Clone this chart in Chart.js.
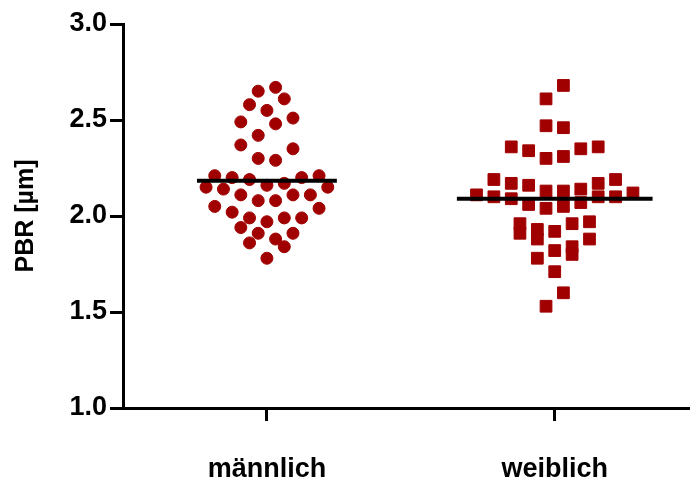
<!DOCTYPE html>
<html lang="de">
<head>
    <meta charset="UTF-8">
    <title>PBR</title>
    <script src="https://cdn.jsdelivr.net/npm/chart.js@4.4.0/dist/chart.umd.min.js"></script>
    <style>
        html, body { margin: 0; padding: 0; overflow: hidden; background: #fff; }
        .wrap { position: relative; width: 690px; height: 480px; }
    </style>
</head>
<body>
    <div class="wrap"><canvas id="chart"></canvas></div>
    <script>
        // categories and values
        const groups = ['männlich', 'weiblich'];

        const maleValues = [
            2.65, 2.67, 2.61, 2.58, 2.55, 2.49, 2.48, 2.51, 2.42, 2.37,
            2.35, 2.30, 2.29, 2.21, 2.20, 2.19, 2.20, 2.21, 2.15, 2.14,
            2.16, 2.17, 2.15, 2.11, 2.11, 2.11, 2.08, 2.08, 2.05, 2.02,
            2.04, 1.99, 1.97, 1.99, 1.99, 1.94, 1.91, 1.91, 1.86, 1.88,
            1.84, 1.78
        ];
        // horizontal scatter column of each point (as in the dot plot)
        const maleJitter = [
            -1, 1, 2, -2, 0, -3, 1, 3, -1, -3,
            3, -1, 1, -6, -4, -2, 4, 6, -7, -5,
            0, 2, 7, -3, 3, 5, -1, 1, -6, -4,
            6, -2, 0, 2, 4, -3, -1, 3, -2, 1,
            2, 0
        ];

        const femaleValues = [
            2.68, 2.61, 2.47, 2.46, 2.36, 2.34, 2.30, 2.31, 2.35, 2.36,
            2.19, 2.17, 2.16, 2.13, 2.13, 2.14, 2.17, 2.19, 2.11, 2.10,
            2.09, 2.10, 2.10, 2.12, 2.06, 2.04, 2.05, 2.07, 1.96, 1.91,
            1.93, 1.88, 1.92, 1.96, 1.97, 1.88, 1.82, 1.84, 1.80, 1.78,
            1.71, 1.60, 1.53
        ];
        const femaleJitter = [
            1, -1, -1, 1, -5, -3, -1, 1, 3, 5,
            -7, -5, -3, -1, 1, 3, 5, 7, -9, -7,
            -5, 5, 7, 9, -3, -1, 1, 3, -4, -4,
            -2, -2, 0, 2, 4, 4, 0, 2, 2, -2,
            0, 1, -1
        ];

        const groupMeans = [2.184, 2.09];
        const yTicks = [1.0, 1.5, 2.0, 2.5, 3.0];

        const red = '#a00000';
        const font = "'Liberation Sans', Arial, Helvetica, sans-serif";
        const slot = 0.0302;
        const meanHalfWidth = [0.243, 0.34];

        function points(values, jitter, pos) {
            return values.map((v, i) => ({ x: pos + jitter[i] * slot, y: v }));
        }

        function meanLine(i) {
            return {
                type: 'line',
                data: [
                    { x: i + 1 - meanHalfWidth[i], y: groupMeans[i] },
                    { x: i + 1 + meanHalfWidth[i], y: groupMeans[i] }
                ],
                borderColor: '#000',
                borderWidth: 4,
                pointRadius: 0,
                showLine: true,
                order: 0
            };
        }

        new Chart(document.getElementById('chart'), {
            type: 'scatter',
            data: {
                datasets: [
                    meanLine(0),
                    meanLine(1),
                    {
                        label: groups[0],
                        data: points(maleValues, maleJitter, 1),
                        pointStyle: 'circle',
                        pointRadius: 6,
                        backgroundColor: red,
                        borderColor: red,
                        borderWidth: 1,
                        order: 1
                    },
                    {
                        label: groups[1],
                        data: points(femaleValues, femaleJitter, 2),
                        pointStyle: 'rect',
                        pointRadius: 8.3,
                        backgroundColor: red,
                        borderColor: red,
                        borderWidth: 1,
                        order: 1
                    }
                ]
            },
            options: {
                responsive: true,
                maintainAspectRatio: false,
                animation: false,
                layout: {
                    autoPadding: false,
                    padding: { top: 24, right: 0, left: 0, bottom: 0 }
                },
                plugins: {
                    legend: { display: false },
                    tooltip: { enabled: false }
                },
                scales: {
                    x: {
                        type: 'linear',
                        min: 0.5,
                        max: 2.47,
                        afterBuildTicks: (s) => { s.ticks = groups.map((g, i) => ({ value: i + 1 })); },
                        afterFit: (s) => {
                            s.height = 72;
                            s.paddingLeft = 0;
                            s.paddingRight = 0;
                        },
                        grid: {
                            drawOnChartArea: false,
                            tickLength: 13,
                            tickWidth: 3,
                            tickColor: '#000'
                        },
                        border: { color: '#000', width: 3 },
                        ticks: {
                            color: '#000',
                            padding: 32,
                            font: { family: font, size: 27, weight: 'bold' },
                            callback: (v) => groups[Math.round(v) - 1]
                        }
                    },
                    y: {
                        min: 1,
                        max: 3,
                        afterBuildTicks: (s) => { s.ticks = yTicks.map(v => ({ value: v })); },
                        afterFit: (s) => {
                            s.width = 123;
                            s.paddingTop = 0;
                            s.paddingBottom = 0;
                        },
                        grid: {
                            drawOnChartArea: false,
                            tickLength: 13,
                            tickWidth: 3,
                            tickColor: '#000'
                        },
                        border: { color: '#000', width: 3 },
                        ticks: {
                            color: '#000',
                            padding: 3,
                            font: { family: font, size: 27, weight: 'bold' },
                            callback: (v) => Number(v).toFixed(1)
                        },
                        title: {
                            display: true,
                            text: 'PBR [µm]',
                            color: '#000',
                            padding: { top: 11, bottom: 0 },
                            font: { family: font, size: 25, weight: 'bold' }
                        }
                    }
                }
            }
        });
    </script>
</body>
</html>
